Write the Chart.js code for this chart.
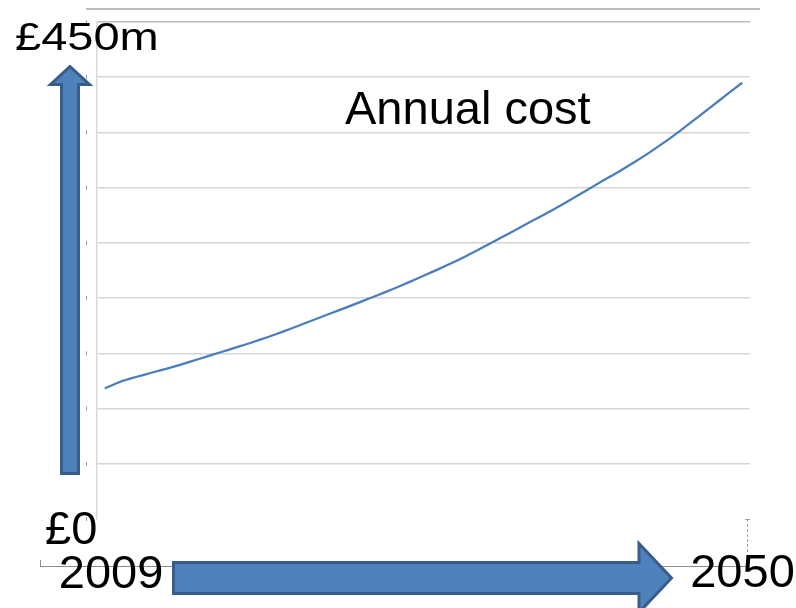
<!DOCTYPE html>
<html><head><meta charset="utf-8">
<script src="https://cdn.jsdelivr.net/npm/chart.js@4"></script>
<style>html,body{margin:0;padding:0;background:#fff}#wrap{width:796px;height:608px;position:relative}</style>
</head><body><div id="wrap"><canvas id="c" width="796" height="608"></canvas></div>
<script>
const years = ['2009','2010','2011','2012','2013','2014','2015','2016','2017','2018','2019','2020','2021','2022','2023','2024','2025','2026','2027','2028','2029','2030','2031','2032','2033','2034','2035','2036','2037','2038','2039','2040','2041','2042','2043','2044','2045','2046','2047','2048','2049','2050'];
const annualCost = [118.3,124.3,128.6,132.4,136.2,140.3,144.6,149.0,153.4,157.8,162.4,167.3,172.5,177.9,183.3,188.7,194.1,199.6,205.2,211.0,217.1,223.3,229.7,236.4,243.5,251.0,258.6,266.2,273.7,281.3,289.4,297.7,306.0,314.0,322.5,331.5,341.2,351.5,362.2,373.2,384.2,395.0];
const yTickLabels = ['£0','£450m'];
const xEndLabels = ['2009','2050'];
const seriesTitle = 'Annual cost';
const yMin = 0, yMax = 450, yStep = 50;

const FONT = '47px "Liberation Sans", Arial, sans-serif';
function seg(ctx,x1,y1,x2,y2){ctx.beginPath();ctx.moveTo(x1,y1);ctx.lineTo(x2,y2);ctx.stroke();}

const deco = {
  id:'deco',
  beforeDraw(chart){
    const ctx = chart.ctx, ys = chart.scales.y;
    ctx.save();
    ctx.fillStyle='#fff'; ctx.fillRect(0,0,chart.width,chart.height);
    ctx.strokeStyle='#a8a8a8'; ctx.lineWidth=1.5;
    seg(ctx,86,9,760,9);
    ctx.strokeStyle='#8c8c8c'; ctx.lineWidth=1;
    seg(ctx,40,566.5,747,566.5);
    seg(ctx,40.5,560,40.5,566);
    ctx.setLineDash([3,2]); ctx.strokeStyle='#a0a0a0';
    seg(ctx,747.5,519,747.5,553);
    ctx.setLineDash([]);
    seg(ctx,745,519.5,750,519.5);
    ctx.strokeStyle='#9a9a9a';
    for(let v=yMin; v<=yMax; v+=yStep){
      const y = ys.getPixelForValue(v);
      seg(ctx,86.5,y-2,86.5,y+2);
    }
    ctx.restore();
  },
  afterDraw(chart){
    const ctx = chart.ctx, ys = chart.scales.y, xs = chart.scales.x;
    ctx.save();
    ctx.fillStyle='#4f81bd'; ctx.strokeStyle='#385d8a'; ctx.lineWidth=3; ctx.lineJoin='miter';
    // up arrow
    ctx.beginPath();
    ctx.moveTo(70,66.5); ctx.lineTo(89.5,84.5); ctx.lineTo(78.5,84.5); ctx.lineTo(78.5,473.5);
    ctx.lineTo(61.5,473.5); ctx.lineTo(61.5,84.5); ctx.lineTo(50.5,84.5); ctx.closePath();
    ctx.fill(); ctx.stroke();
    // right arrow
    ctx.beginPath();
    ctx.moveTo(173.5,562.5); ctx.lineTo(639,562.5); ctx.lineTo(639,543.5); ctx.lineTo(671.5,578);
    ctx.lineTo(639,612.5); ctx.lineTo(639,593.5); ctx.lineTo(173.5,593.5); ctx.closePath();
    ctx.fill(); ctx.stroke();
    // texts
    ctx.fillStyle='#000'; ctx.font=FONT; ctx.textAlign='left'; ctx.textBaseline='alphabetic';
    ctx.save();
    ctx.translate(15, ys.getPixelForValue(yMax)+28);
    ctx.scale(1,0.84);
    ctx.fillText(yTickLabels[1],0,0);
    ctx.restore();
    ctx.fillText(yTickLabels[0],45, ys.getPixelForValue(yMin)+25);
    ctx.fillText(seriesTitle,345,124);
    ctx.fillText(xEndLabels[0], xs.getPixelForValue(0)-46, 588);
    ctx.fillText(xEndLabels[1], xs.getPixelForValue(years.length-1)-52, 587);
    ctx.restore();
  }
};

new Chart(document.getElementById('c'), {
  type:'line',
  data:{labels:years, datasets:[{label:seriesTitle, data:annualCost, borderColor:'#4a7ebb', borderWidth:2.25, pointRadius:0, tension:0.3, fill:false}]},
  options:{
    responsive:false, animation:false, devicePixelRatio:1,
    layout:{padding:{left:97,right:46,top:22,bottom:89}},
    plugins:{legend:{display:false}, tooltip:{enabled:false}, title:{display:false}},
    scales:{
      x:{display:false, offset:true},
      y:{min:yMin,max:yMax,
         ticks:{display:false,stepSize:yStep},
         grid:{drawTicks:false, lineWidth:1.5, color:c=>c.tick.value===0?'rgba(0,0,0,0)':(c.tick.value===yMax?'#bdbdbd':'#d6d6d6')},
         border:{display:true,color:'#d9d9d9',width:1.5}}
    }
  },
  plugins:[deco]
});
</script></body></html>
